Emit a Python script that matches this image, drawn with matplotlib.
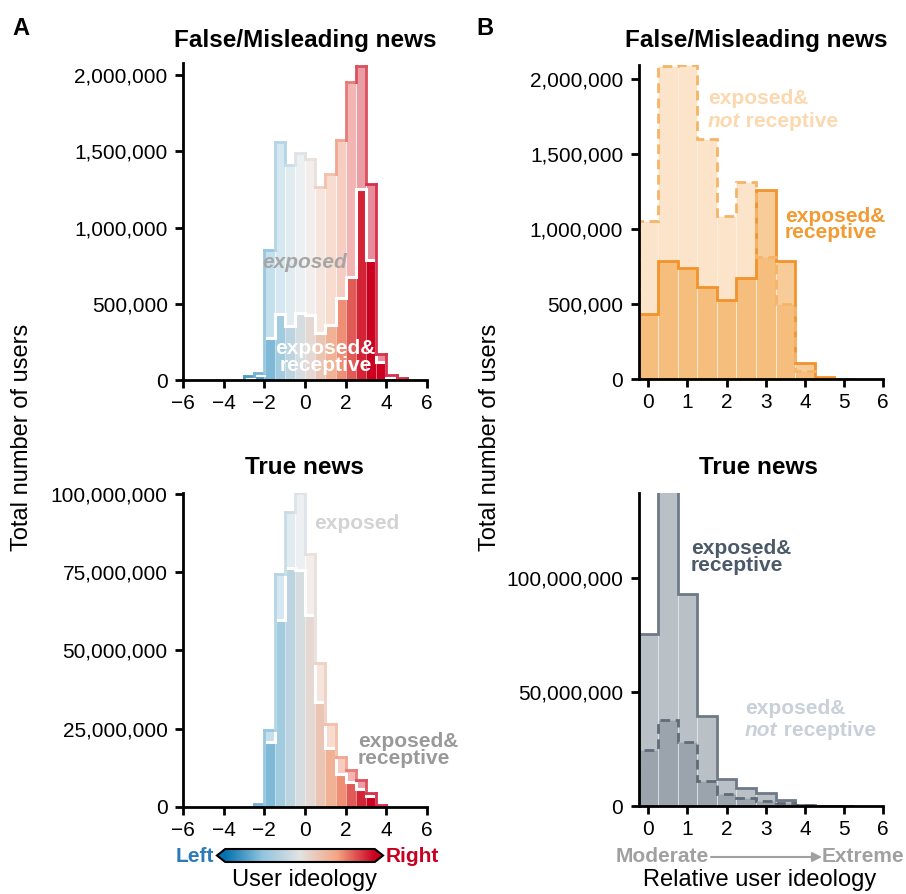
import numpy as np
import matplotlib.pyplot as plt
from matplotlib.colors import LinearSegmentedColormap, Normalize, to_rgb
from matplotlib.cm import ScalarMappable
from matplotlib.ticker import FuncFormatter

plt.rcParams['font.family'] = ['Liberation Sans', 'DejaVu Sans']
plt.rcParams['font.size'] = 15
plt.rcParams['axes.linewidth'] = 2
plt.rcParams['xtick.major.width'] = 2
plt.rcParams['ytick.major.width'] = 2
plt.rcParams['xtick.major.size'] = 6
plt.rcParams['ytick.major.size'] = 6
plt.rcParams['xtick.major.pad'] = 4
plt.rcParams['ytick.major.pad'] = 5

W, H = 906, 894

# ---- panel A : user ideology, bins of 0.5 ----
fake_edges = np.arange(-3.0, 5.01, 0.5)
fake_exposed = [26e3, 48e3, 851e3, 1561e3, 1413e3, 1491e3, 1448e3, 1266e3,
                1349e3, 1572e3, 1954e3, 2063e3, 1288e3, 170e3, 33e3, 11e3]
fake_receptive = [15e3, 30e3, 273e3, 430e3, 354e3, 437e3, 426e3, 310e3,
                  358e3, 535e3, 677e3, 1256e3, 790e3, 120e3, 17e3, 3e3]

true_edges = np.arange(-2.5, 4.01, 0.5)
true_exposed = [1.06e6, 24.5e6, 74.5e6, 94.1e6, 100.2e6, 80.6e6, 46.1e6,
                26.6e6, 16.0e6, 11.7e6, 8.5e6, 4.5e6, 0.5e6]
true_receptive = [0.85e6, 20.7e6, 59.8e6, 76.4e6, 75.7e6, 61.2e6, 33.5e6,
                  18.9e6, 10.6e6, 8.0e6, 5.9e6, 3.4e6, 0.1e6]

# ---- panel B : relative ideology ----
rel_edges = np.arange(-0.25, 5.26, 0.5)
fake_notrec = [1052e3, 2085e3, 2089e3, 1595e3, 1088e3, 1309e3, 815e3, 500e3, 58e3, 3e3, 0]
fake_rec = [432e3, 789e3, 738e3, 611e3, 527e3, 671e3, 1258e3, 789e3, 106e3, 13e3, 5e3]
true_notrec = [24.5e6, 37.7e6, 28.2e6, 10.9e6, 5.1e6, 3.4e6, 2.3e6, 1.5e6, 0.3e6, 0, 0]
true_rec = [75.2e6, 140e6, 92.7e6, 39.4e6, 11.7e6, 7.7e6, 5.5e6, 2.6e6, 0.4e6, 0, 0]

cmap = LinearSegmentedColormap.from_list(
    'ideo', ['#0571b0', '#92c5de', '#e2e2e2', '#f4a582', '#ca0020'])
norm = Normalize(-3.1, 3.1)


def mix(c, a):
    c = np.array(to_rgb(c))
    return tuple(a * c + (1 - a) * np.ones(3))


def px_axes(fig, x0, y0, x1, y1):
    return fig.add_axes([x0 / W, 1 - y1 / H, (x1 - x0) / W, (y1 - y0) / H])


def style(ax):
    ax.spines['top'].set_visible(False)
    ax.spines['right'].set_visible(False)
    ax.yaxis.set_major_formatter(FuncFormatter(lambda v, p: '{:,.0f}'.format(v)))


def ideology_hist(ax, edges, exposed, receptive):
    exposed = np.asarray(exposed)
    receptive = np.asarray(receptive)
    centers = (edges[:-1] + edges[1:]) / 2
    cols = [cmap(norm(c))[:3] for c in centers]
    w = np.diff(edges)
    ax.bar(edges[:-1], exposed, width=w, align='edge',
           color=[mix(c, 0.45) for c in cols], edgecolor=(1, 1, 1, 0.7), linewidth=0.7)
    padded = np.concatenate([[0], exposed, [0]])
    # step outline, each piece in the colour of its (taller) bin
    for i in range(len(exposed)):
        l, r, h = edges[i], edges[i + 1], exposed[i]
        lc = mix(cols[i], 0.8)
        ax.plot([l, r], [h, h], color=lc, lw=2, solid_capstyle='projecting')
        if h > padded[i]:
            ax.plot([l, l], [padded[i], h], color=lc, lw=2)
        if h > padded[i + 2]:
            ax.plot([r, r], [padded[i + 2], h], color=lc, lw=2)
    ax.bar(edges[:-1], receptive, width=w, align='edge', color=cols,
           edgecolor=(1, 1, 1, 0.3), linewidth=0.5)
    ax.stairs(receptive, edges, color='white', lw=2.2)
    ax.set_xlim(-6, 6)
    ax.set_xticks(range(-6, 7, 2))
    style(ax)


def relative_hist(ax, notrec, rec, base, a_not, a_rec, c_not, c_rec):
    w = np.diff(rel_edges)
    ax.bar(rel_edges[:-1], notrec, width=w, align='edge', color=base, alpha=a_not,
           edgecolor=(1, 1, 1, 0.6), linewidth=0.7)
    ax.bar(rel_edges[:-1], rec, width=w, align='edge', color=base, alpha=a_rec,
           edgecolor=(1, 1, 1, 0.6), linewidth=0.7)
    ax.stairs(rec, rel_edges, color=c_rec, lw=2)
    ax.stairs(notrec, rel_edges, color=c_not, lw=2, linestyle=(0, (3.5, 2)))
    ax.set_xlim(-0.25, 6)
    ax.set_xticks(range(0, 7))
    style(ax)


def not_receptive(ax, x, y1, y2, color):
    ax.text(x, y1, 'exposed&', color=color, fontweight='bold', ha='left', va='center')
    t = ax.text(x, y2, 'not', color=color, fontweight='bold', style='italic',
                ha='left', va='center')
    ax.annotate(' receptive', xy=(1, 0), xycoords=t, color=color,
                fontweight='bold', ha='left', va='bottom')


fig = plt.figure(figsize=(W / 100, H / 100), dpi=100)

# A top
ax1 = px_axes(fig, 183, 63, 427, 380)
ideology_hist(ax1, fake_edges, fake_exposed, fake_receptive)
ax1.set_ylim(0, 2.08e6)
ax1.set_yticks(np.arange(0, 2.01e6, 5e5))
ax1.text(0, 0.77e6, 'exposed', color='#a6a6a6', fontweight='bold', style='italic',
         ha='center', va='center')
ax1.text(1.0, 0.15e6, 'exposed&\nreceptive', color='white', fontweight='bold',
         ha='center', va='center', linespacing=0.85)

# A bottom
ax2 = px_axes(fig, 183, 493, 427, 807)
ideology_hist(ax2, true_edges, true_exposed, true_receptive)
ax2.set_ylim(0, 100.2e6)
ax2.set_yticks(np.arange(0, 100.1e6, 25e6))
ax2.text(0.45, 90.5e6, 'exposed', color='#d3d3d3', fontweight='bold',
         ha='left', va='center')
ax2.text(2.6, 18.1e6, 'exposed&\nreceptive', color='#999999', fontweight='bold',
         ha='left', va='center', linespacing=0.85)

# B top
orange = '#f39a32'
ax3 = px_axes(fig, 638.5, 65, 883.3, 379.3)
relative_hist(ax3, fake_notrec, fake_rec, orange, 0.26, 0.5, '#f6b468', '#f2932c')
ax3.set_ylim(0, 2.09e6)
ax3.set_yticks(np.arange(0, 2.01e6, 5e5))
not_receptive(ax3, 1.52, 1.865e6, 1.715e6, '#fcd8ae')
ax3.text(3.49, 1.03e6, 'exposed&\nreceptive', color=orange, fontweight='bold',
         ha='left', va='center', linespacing=0.85)

# B bottom
slate = '#5a6978'
ax4 = px_axes(fig, 638.5, 492.7, 883.3, 806)
relative_hist(ax4, true_notrec, true_rec, slate, 0.32, 0.42, '#5f6b77', '#6e7a87')
ax4.set_ylim(0, 137.2e6)
ax4.set_yticks([0, 50e6, 100e6])
ax4.text(1.09, 109e6, 'exposed&\nreceptive', color='#4b5968', fontweight='bold',
         ha='left', va='center', linespacing=0.85)
not_receptive(ax4, 2.47, 42.6e6, 33.0e6, '#c8d0d9')

# titles
for x, y, s in [(305, 47, 'False/Misleading news'), (756, 47, 'False/Misleading news'),
                (304, 474, 'True news'), (758, 474, 'True news')]:
    fig.text(x / W, 1 - y / H, s, fontsize=17.5, fontweight='bold',
             ha='center', va='baseline')

fig.text(12 / W, 1 - 35 / H, 'A', fontsize=17, fontweight='bold', va='baseline')
fig.text(476 / W, 1 - 35 / H, 'B', fontsize=17, fontweight='bold', va='baseline')

fig.text(22 / W, 1 - 437 / H, 'Total number of users', rotation=90, fontsize=17,
         ha='center', va='center')
fig.text(490 / W, 1 - 437 / H, 'Total number of users', rotation=90, fontsize=17,
         ha='center', va='center')

# colorbar for ideology
cax = px_axes(fig, 217, 849, 383, 862)
cb = fig.colorbar(ScalarMappable(norm=norm, cmap=cmap), cax=cax,
                  orientation='horizontal', extend='both', extendfrac=0.055)
cb.set_ticks([])
cb.outline.set_linewidth(1.5)
fig.text(214 / W, 1 - 856 / H, 'Left', color='#2b7bba', fontweight='bold',
         ha='right', va='center')
fig.text(386 / W, 1 - 856 / H, 'Right', color='#ca0020', fontweight='bold',
         ha='left', va='center')
fig.text(305 / W, 1 - 880 / H, 'User ideology', fontsize=17, ha='center', va='center')

# moderate -> extreme
grey = '#a0a0a0'
fig.text(616 / W, 1 - 856 / H, 'Moderate', color=grey, fontweight='bold',
         ha='left', va='center')
fig.text(822 / W, 1 - 856 / H, 'Extreme', color=grey, fontweight='bold',
         ha='left', va='center')
fig.add_artist(plt.Annotation('', xy=(822 / W, 1 - 857 / H), xytext=(711 / W, 1 - 857 / H),
                              xycoords='figure fraction',
                              arrowprops=dict(arrowstyle='-|>', color=grey, lw=1.5,
                                              mutation_scale=14, shrinkA=0, shrinkB=0)))
fig.text(760 / W, 1 - 880 / H, 'Relative user ideology', fontsize=17,
         ha='center', va='center')

fig.savefig('out.png', dpi=100)
